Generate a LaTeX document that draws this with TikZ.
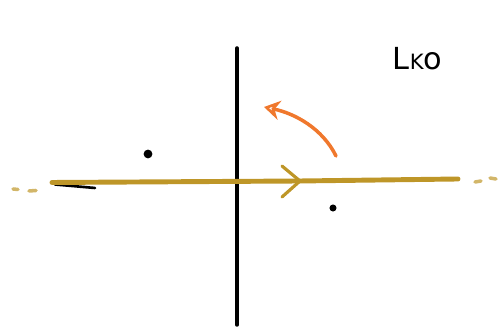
\documentclass[tikz,border=0pt]{standalone}
\usepackage{fontspec}
\setmainfont{DejaVu Sans}
\usetikzlibrary{arrows.meta}
\definecolor{gold}{RGB}{190,150,40}
\definecolor{orng}{RGB}{240,120,45}
\tikzset{
contour/.style={gold,line width=2.8pt,line cap=round},
axis/.style={black,line width=2pt,line cap=round},
pole/.style={circle,fill=black,inner sep=0pt,minimum size=5pt}
}
\begin{document}
\begin{tikzpicture}[scale=1]

\useasboundingbox
(0,0)
rectangle
(10.04,6.62);

\coordinate
(top)
at (4.74,5.66);

\coordinate
(bottom)
at (4.74,0.12);

\coordinate
(west)
at (1.04,2.97);

\coordinate
(east)
at (9.16,3.04);

\coordinate
(mid)
at (6.0,3.0);

\draw[axis]
(bottom)
--
(top);

\draw[axis,line width=1.5pt]
(1.1,2.93)
--
(1.9,2.86);

\draw[contour]
(west)
--
(mid)
--
(east);

\draw[gold,line width=1.8pt,line cap=round,line join=round]
(5.64,3.30)
--
(mid)
--
(5.64,2.68);

% dashes at both ends
\draw[gold!70,line width=2pt,line cap=round]
(0.26,2.84) -- (0.36,2.83)
(0.58,2.80) -- (0.72,2.81)
(9.50,2.98) -- (9.62,3.00)
(9.80,3.06) -- (9.92,3.04);

\node[pole]
(p1)
at (2.96,3.54)
{};

\node[pole,minimum size=4pt]
(p2)
at (6.66,2.46)
{};

\coordinate
(rotstart)
at (6.72,3.50);

\coordinate
(rotend)
at (5.28,4.48);

\draw[orng,line width=2pt,line cap=round,-{Stealth[length=9pt,width=11pt,open]}]
(rotstart)
.. controls (6.45,4.05) and (5.9,4.35) ..
(rotend);

\node[font=\LARGE]
(lab)
at (8.35,5.45)
{L{\large K}o};

\end{tikzpicture}
\end{document}
